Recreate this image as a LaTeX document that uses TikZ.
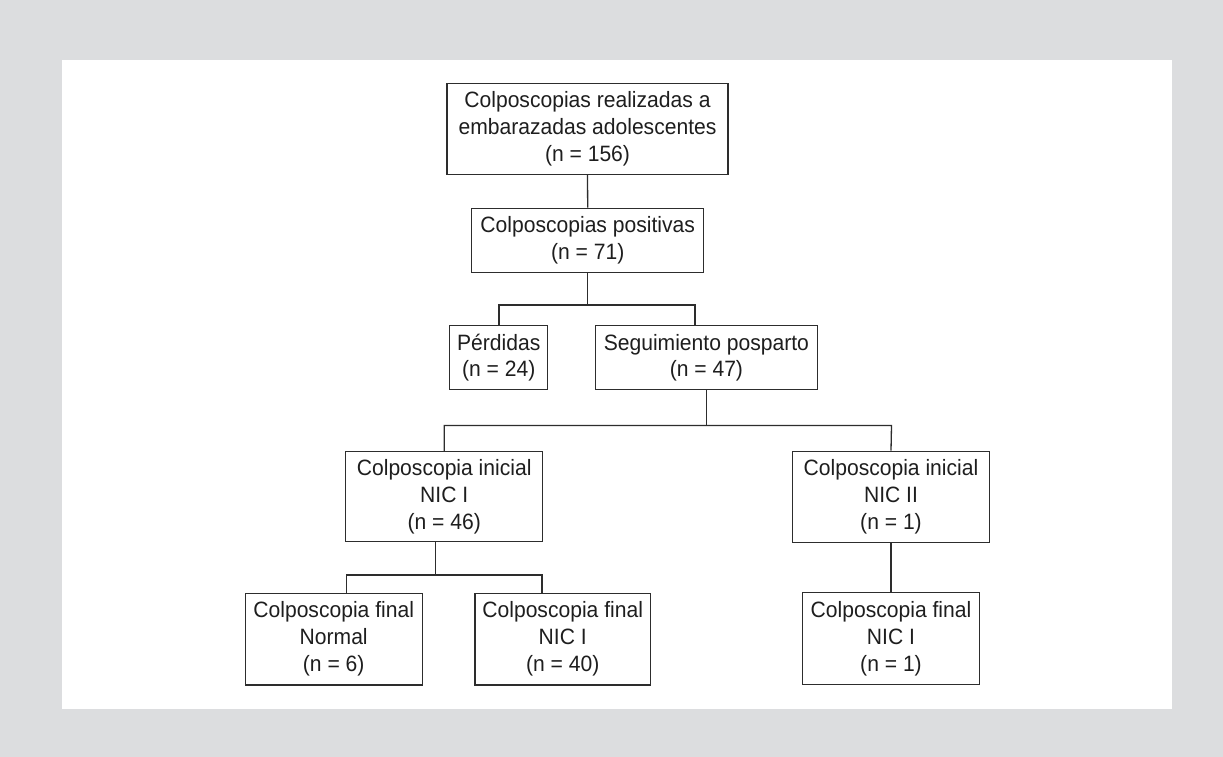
\documentclass[tikz,border=0pt]{standalone}
\usepackage{fontspec}
\setmainfont[FakeStretch=0.95]{Liberation Sans}
\definecolor{bgc}{RGB}{220,221,223}
\definecolor{linec}{RGB}{45,45,45}
\definecolor{textc}{RGB}{30,30,30}
\begin{document}
\begin{tikzpicture}[x=1pt,y=-1pt]
\tikzset{
  box/.style={draw=linec, line width=1.3pt, rectangle, align=center, inner sep=0pt,
    font=\fontsize{22.2}{26.8}\selectfont, text=textc},
  conn/.style={draw=linec, line width=1.3pt}
}
\fill[bgc] (0,0) rectangle (1223,757);
\fill[white] (62,60) rectangle (1172,709);
\useasboundingbox (0,0) rectangle (1223,757);

\node[box, minimum width=281pt, minimum height=91pt] (top) at (587.5,129)
  {Colposcopias realizadas a\\embarazadas adolescentes\\(n = 156)};
\node[box, minimum width=232pt, minimum height=64.4pt] (pos) at (587.7,240.5)
  {Colposcopias positivas\\(n = 71)};
\node[box, minimum width=98pt, minimum height=64pt] (perd) at (498.7,357.7)
  {Pérdidas\\(n = 24)};
\node[box, minimum width=222pt, minimum height=64pt] (seg) at (706.4,357.7)
  {Seguimiento posparto\\(n = 47)};
\node[box, minimum width=197pt, minimum height=90pt] (iniA) at (444.2,496.7)
  {Colposcopia inicial\\NIC I\\(n = 46)};
\node[box, minimum width=197.5pt, minimum height=91pt] (iniB) at (891,496.7)
  {Colposcopia inicial\\NIC II\\(n = 1)};
\node[box, minimum width=177pt, minimum height=91.7pt] (finN) at (333.7,639)
  {Colposcopia final\\Normal\\(n = 6)};
\node[box, minimum width=175.5pt, minimum height=91.7pt] (finA) at (562.7,639)
  {Colposcopia final\\NIC I\\(n = 40)};
\node[box, minimum width=177.5pt, minimum height=91.7pt] (finB) at (891,638.5)
  {Colposcopia final\\NIC I\\(n = 1)};

% junction coordinates
\coordinate (j1) at (587.7,305);
\coordinate (j1l) at (499,305);
\coordinate (j1r) at (695,305);
\coordinate (j2) at (706.7,425.5);
\coordinate (j2l) at (444.2,425.5);
\coordinate (j2r) at (891.5,425.5);
\coordinate (j3) at (435.3,575);
\coordinate (j3l) at (346.7,575);
\coordinate (j3r) at (542,575);

\draw[conn] (top.south) -- (pos.north);
\draw[conn] (pos.south) -- (j1);
\draw[conn] (j1l |- perd.north) -- (j1l) -- (j1r) -- (j1r |- seg.north);
\draw[conn] (j2 |- seg.south) -- (j2);
\draw[conn] (iniA.north) -- (j2l) -- (j2r) -- (iniB.north);
\draw[conn] (j3 |- iniA.south) -- (j3);
\draw[conn] (j3l |- finN.north) -- (j3l) -- (j3r) -- (j3r |- finA.north);
\draw[conn] (iniB.south) -- (finB.north);
\end{tikzpicture}
\end{document}
